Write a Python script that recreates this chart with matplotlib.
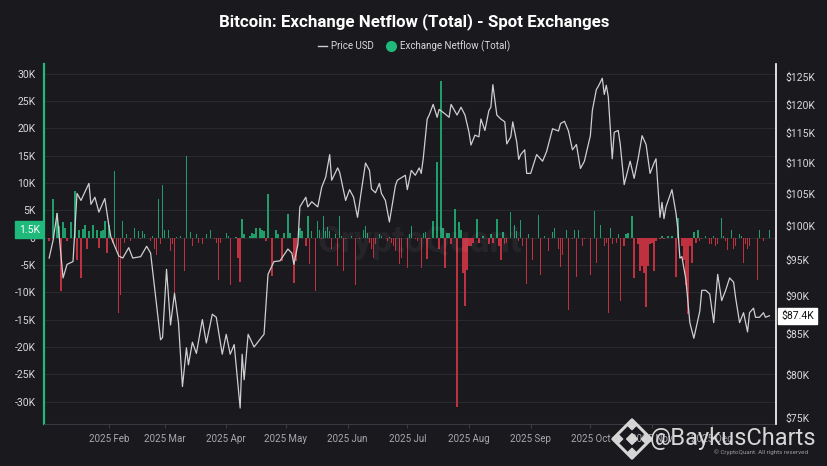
import numpy as np
import matplotlib
matplotlib.use("Agg")
import matplotlib.pyplot as plt
import matplotlib.dates as mdates
from matplotlib.lines import Line2D
from matplotlib.ticker import NullLocator

plt.rcParams['font.family'] = ['Roboto', 'DejaVu Sans']

# colours
bg = '#19191e'
green = '#1fb97b'
bar_green = '#1f9e6c'
bar_red = '#c0313f'
line_col = '#cfcfcf'
txt_col = '#d9d9d9'

# ---- data (days counted from 2025-01-01) ----
# BTC price, thousand USD
price_day = [1, 3, 5, 8, 10, 13, 15, 17, 21, 22, 24, 26, 29, 31, 32, 36, 38, 41, 43, 47,
             50, 52, 57, 58, 60, 62, 64, 66, 68, 70, 71, 73, 75, 78, 80, 83, 85, 88, 90, 92,
             94, 96, 97, 98, 99, 101, 104, 108, 109, 111, 114, 117, 121, 123, 124, 126, 127, 130, 131, 133,
             136, 138, 140, 142, 143, 146, 147, 150, 152, 154, 156, 158, 160, 162, 163, 165, 167, 168, 170, 172,
             175, 176, 180, 181, 183, 185, 187, 188, 189, 191, 192, 194, 196, 197, 200, 202, 203, 206, 208, 210,
             212, 213, 215, 217, 218, 220, 222, 223, 224, 226, 228, 230, 231, 233, 234, 236, 237, 238, 240, 241,
             243, 246, 249, 251, 254, 257, 258, 260, 262, 264, 266, 268, 270, 273, 274, 276, 277, 279, 280, 281,
             282, 284, 285, 287, 288, 290, 293, 295, 297, 299, 301, 303, 305, 306, 308, 309, 310, 311, 314, 316,
             317, 318, 319, 321, 323, 325, 328, 329, 331, 333, 335, 337, 339, 341, 343, 345, 346, 348, 350, 352,
             353, 355, 356, 358, 360, 361, 363]
price_usd = [95.3, 97.9, 101.9, 92.5, 94.4, 94.8, 105.0, 103.9, 106.6, 103.3, 104.4, 102.1, 104.2, 100.1, 98.4, 95.6, 95.3, 96.8, 95.3, 95.5,
             97.0, 96.0, 84.3, 84.6, 93.7, 86.2, 90.4, 86.5, 78.6, 83.3, 81.2, 84.0, 82.6, 86.9, 83.9, 87.6, 87.2, 82.5, 85.0, 82.5,
             83.7, 78.5, 76.1, 82.5, 79.4, 85.0, 83.4, 84.7, 85.0, 93.0, 94.8, 94.9, 96.6, 96.0, 94.4, 97.3, 102.9, 104.4, 102.9, 103.7,
             102.9, 106.0, 107.6, 111.3, 107.1, 109.1, 108.4, 103.9, 105.6, 104.4, 101.3, 105.6, 109.9, 108.7, 105.7, 105.1, 106.6, 105.0, 103.9, 100.6,
             106.2, 107.1, 107.9, 105.6, 108.7, 107.9, 109.1, 108.2, 110.6, 117.4, 118.1, 120.0, 117.7, 119.1, 118.3, 117.7, 120.0, 118.1, 119.5, 118.1,
             115.1, 112.9, 114.6, 114.3, 117.4, 115.4, 118.9, 119.5, 123.6, 118.1, 117.4, 116.9, 113.1, 114.3, 116.9, 113.4, 110.5, 111.3, 112.1, 108.2,
             108.2, 111.3, 110.2, 111.8, 115.7, 115.3, 116.6, 117.0, 115.3, 112.1, 113.0, 109.0, 110.2, 114.5, 118.9, 122.7, 123.3, 124.8, 121.8, 123.5,
             121.4, 110.6, 115.1, 115.4, 113.1, 106.4, 110.2, 107.4, 110.6, 114.5, 113.0, 108.2, 109.9, 110.6, 101.3, 103.6, 101.1, 102.9, 105.6, 102.0,
             99.5, 95.3, 95.5, 92.3, 86.5, 84.5, 88.0, 90.8, 90.8, 90.3, 86.5, 93.0, 89.4, 90.8, 92.5, 91.9, 89.8, 86.5, 87.8, 85.3,
             87.8, 88.4, 87.2, 87.2, 87.8, 87.2, 87.4]

# exchange netflow, thousand BTC
flow_day = [1, 3, 5, 6, 7, 8, 9, 10, 12, 14, 15, 16, 17, 18, 19, 20, 21, 23, 25, 26,
            27, 28, 29, 30, 31, 33, 34, 35, 36, 37, 38, 39, 40, 42, 44, 46, 47, 48, 49, 52,
            53, 54, 55, 56, 57, 58, 59, 61, 62, 63, 64, 65, 67, 69, 70, 72, 73, 75, 76, 78,
            80, 82, 84, 85, 86, 87, 90, 91, 92, 95, 96, 97, 98, 99, 102, 103, 104, 105, 107, 108,
            109, 110, 111, 113, 115, 116, 118, 119, 121, 122, 124, 125, 127, 128, 130, 131, 132, 133, 135, 136,
            137, 138, 139, 140, 141, 142, 143, 145, 146, 147, 148, 149, 150, 153, 155, 157, 159, 160, 161, 162,
            163, 164, 165, 167, 168, 171, 172, 173, 174, 175, 177, 178, 181, 182, 183, 185, 186, 188, 189, 190,
            191, 192, 194, 196, 197, 198, 199, 200, 201, 202, 203, 205, 206, 207, 208, 209, 210, 211, 212, 213,
            214, 216, 217, 219, 222, 223, 224, 226, 227, 228, 229, 230, 231, 233, 235, 236, 237, 238, 239, 241,
            242, 244, 247, 248, 250, 252, 254, 255, 257, 258, 259, 261, 262, 264, 265, 266, 267, 269, 270, 273,
            275, 276, 278, 280, 281, 282, 283, 284, 286, 287, 288, 290, 291, 292, 294, 295, 297, 298, 299, 300,
            301, 302, 303, 304, 305, 306, 308, 309, 310, 312, 314, 316, 317, 319, 320, 321, 322, 323, 324, 325,
            326, 327, 328, 329, 331, 333, 334, 335, 336, 337, 339, 340, 341, 342, 344, 345, 346, 348, 349, 350,
            351, 352, 353, 357, 358, 360, 363]
flow_k = [-0.6, 7.0, 4.6, 2.1, -9.8, 2.8, 1.8, -0.6, 2.8, 8.6, -4.0, 1.5, -7.3, 1.6, 2.4, -2.0, 1.2, 2.4, 1.5, -1.8,
          1.2, 1.5, 3.1, -2.8, 2.4, -0.9, 12.2, -2.1, -13.8, -10.4, 3.1, -1.0, 0.6, -0.6, 1.8, 1.2, -0.3, 1.2, 0.6, -0.6,
          0.3, -2.1, -3.1, 7.0, -1.2, 9.6, 1.5, 1.4, -2.4, -1.2, -10.1, 0.2, 0.4, -6.1, 15.0, 1.0, -1.5, 0.6, -0.9, -1.2,
          0.6, 1.5, -0.3, -0.9, -7.8, -0.9, 0.9, 0.3, -8.6, 0.2, -3.7, -8.1, 3.4, 0.6, 0.4, 0.9, 0.6, 1.7, 1.8, 1.5,
          1.2, -0.6, 8.0, -7.0, 1.5, 0.6, -4.3, 0.9, 4.3, 0.9, -8.3, -4.3, 1.8, 1.2, -1.5, 4.0, -4.9, 1.2, -9.8, 3.1,
          1.5, -0.3, 3.9, 1.2, 2.0, 1.2, -2.1, 0.6, -5.2, 3.9, 0.4, -6.1, -0.3, 0.3, -8.6, -0.3, 1.5, 2.1, 0.9, -0.9,
          -2.1, -3.7, -1.2, 0.6, 0.4, -0.6, 0.2, -0.9, -1.5, -2.4, -4.9, -3.7, -5.5, 0.6, 2.1, -0.3, -0.6, -5.5, 0.9, 1.0,
          -3.9, -0.3, 3.1, 13.8, -2.1, 28.7, 1.7, -5.6, 0.8, 0.9, -1.2, 5.2, -31.0, 2.8, 1.5, -6.5, -12.5, -5.9, -1.5, -1.5,
          -0.9, 3.4, -0.9, 0.3, -1.2, 0.6, -0.9, 3.5, -1.5, -4.0, 1.0, -1.2, -0.9, 4.7, 2.4, 1.2, -0.6, 3.2, -1.5, -8.4,
          0.6, -4.0, 4.2, -6.9, 0.4, -2.4, 1.0, 1.8, -2.1, -5.3, -3.1, 1.4, -13.3, -0.3, 1.4, -7.2, 1.5, -1.5, -0.3, -6.9,
          4.8, -4.6, 2.3, -1.5, -0.9, -13.8, 1.8, -1.2, -0.9, 0.6, -11.5, -1.5, 0.6, 0.9, 4.0, -7.3, -1.2, -6.1, -5.2, -6.4,
          -12.7, -5.2, -1.2, -0.9, -6.1, -0.6, -0.3, 0.3, -0.3, 0.4, 0.4, -7.2, 3.7, -1.5, -4.0, -8.6, -13.9, -1.5, -4.7, 1.0,
          -0.9, 1.5, -0.6, -0.3, 0.4, -1.2, -1.2, 0.3, -1.5, -1.2, 3.7, 0.3, -0.6, -2.3, 1.5, -2.0, -1.5, 0.6, 0.4, -4.6,
          -1.2, -2.1, -1.5, -7.8, 1.5, -0.6, 1.5]

left_ticks = [-30, -25, -20, -15, -10, -5, 0, 5, 10, 15, 20, 25, 30]
right_ticks = [75, 80, 85, 90, 95, 100, 105, 110, 115, 120, 125]

# convert day offsets to matplotlib date numbers
base = mdates.date2num(np.datetime64('2025-01-01'))
px = base + np.array(price_day)
fx = base + np.array(flow_day)
flow = np.array(flow_k)

fig = plt.figure(figsize=(8.28, 4.66), dpi=100, facecolor=bg)
ax = fig.add_axes([0.0531, 0.0901, 0.8841, 0.7726])
ax.set_facecolor(bg)

cols = [bar_green if v >= 0 else bar_red for v in flow]
ax.bar(fx, flow, width=0.7, color=cols, zorder=2)

ax.set_xlim(base - 1.6, base + 366.3)
ax.set_ylim(-34.1, 31.8)
ax.set_yticks(left_ticks)
ax.set_yticklabels(['0' if v == 0 else f'{v}K' for v in left_ticks])
ax.grid(axis='y', color='#2a2a31', lw=0.7, zorder=0)
ax.xaxis.set_major_locator(mdates.MonthLocator(bymonth=range(2, 13)))
ax.xaxis.set_major_formatter(mdates.DateFormatter('%Y %b'))
ax.tick_params(axis='x', colors='#3c3c44', labelcolor='#a8a8ae', labelsize=7, length=3, pad=4)
ax.tick_params(axis='y', colors=txt_col, labelsize=7.5, length=0, pad=6)
for s in ['top', 'right']:
    ax.spines[s].set_visible(False)
ax.spines['left'].set_color(green)
ax.spines['left'].set_linewidth(1.6)
ax.spines['bottom'].set_color('#3a3a42')
ax.spines['bottom'].set_linewidth(0.8)

# price on log right axis
ax2 = ax.twinx()
ax2.plot(px, price_usd, color=line_col, lw=0.9, zorder=3)
ax2.set_yscale('log')
ax2.set_ylim(74.3, 127.5)
ax2.yaxis.set_minor_locator(NullLocator())
ax2.set_yticks(right_ticks)
ax2.set_yticklabels([f'${v}K' for v in right_ticks])
ax2.tick_params(axis='y', colors=txt_col, labelsize=7.5, length=0, pad=7)
for s in ['top', 'left', 'bottom']:
    ax2.spines[s].set_visible(False)
ax2.spines['right'].set_color('white')
ax2.spines['right'].set_linewidth(1.2)

# last value boxes
ax.annotate(f'{flow_k[-1]}K', xy=(0, flow_k[-1]), xycoords=('axes fraction', 'data'),
            xytext=(-3, 0), textcoords='offset points', ha='right', va='center',
            fontsize=7.5, color='white',
            bbox=dict(boxstyle='square,pad=0.35', fc=green, ec=green), annotation_clip=False)
ax2.annotate(f'${price_usd[-1]}K', xy=(1, price_usd[-1]), xycoords=('axes fraction', 'data'),
             xytext=(4, 0), textcoords='offset points', ha='left', va='center',
             fontsize=7.5, color='#111111',
             bbox=dict(boxstyle='square,pad=0.3', fc='white', ec='white'), annotation_clip=False)

# title and legend
fig.text(0.5, 1 - 22 / 466, 'Bitcoin: Exchange Netflow (Total) - Spot Exchanges',
         ha='center', va='center', fontsize=12.2, fontweight='bold', color='white')
handles = [Line2D([], [], color=line_col, lw=1),
           Line2D([], [], marker='o', color=green, ls='', markersize=7)]
fig.legend(handles, ['Price USD', 'Exchange Netflow (Total)'], loc='center',
           bbox_to_anchor=(0.5, 1 - 46 / 466), ncol=2, frameon=False, fontsize=7,
           labelcolor=txt_col, handlelength=0.9, handletextpad=0.4, columnspacing=1.4)

# watermarks
wm = fig.add_axes([0, 0, 1, 1])
wm.set_xlim(0, 828)
wm.set_ylim(466, 0)
wm.axis('off')
wm.patch.set_visible(False)
wm.text(420, 242, 'CryptoQuant', fontsize=26, color='white', alpha=0.05,
        ha='center', va='center', fontweight='bold')
wm.scatter([632, 619, 645, 632, 632], [439, 439, 439, 426, 452], marker='D',
           s=[30, 14, 14, 14, 14], color='#d6d6d6', zorder=5)
wm.scatter([632], [439], marker='D', s=380, facecolors='none', edgecolors='#d6d6d6',
           linewidths=2.2, zorder=5)
wm.text(650, 439, '@BaykusCharts', fontsize=17, color='#d6d6d6', ha='left', va='center')
wm.text(808, 452, '© CryptoQuant. All rights reserved', fontsize=4.5, color='#9a9aa0',
        ha='right', va='center')

fig.savefig('out.png', dpi=100, facecolor=bg)
